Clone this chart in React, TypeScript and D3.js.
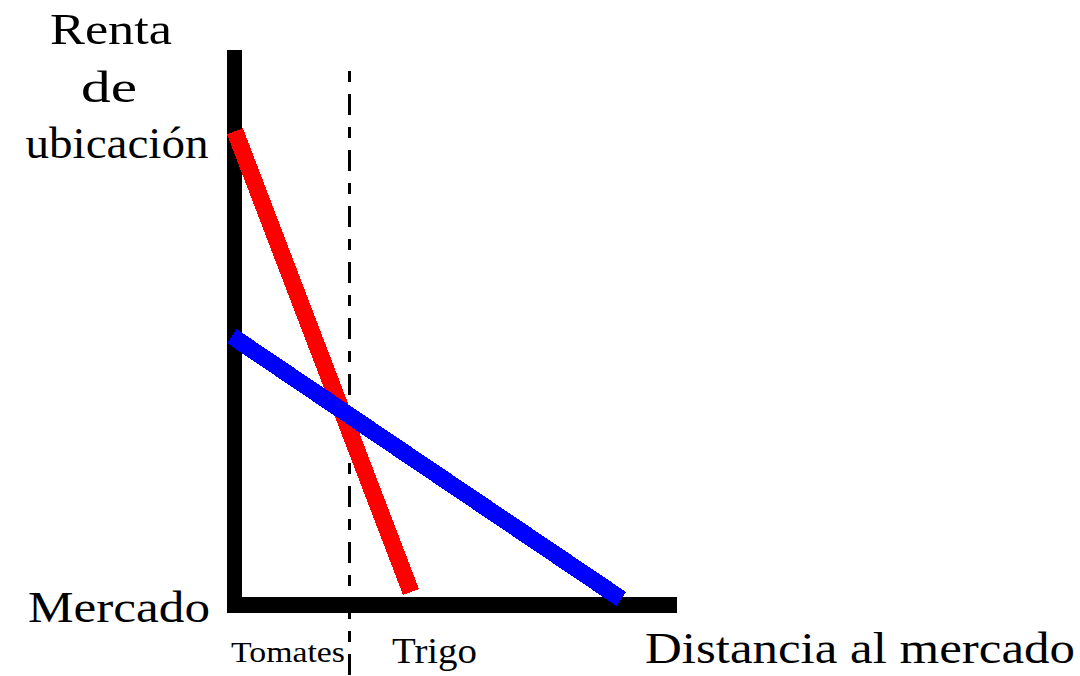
import React, { useEffect, useRef } from 'react';
import * as d3 from 'd3';

// distance to market (0-100) vs location rent (0-100)
const cropNames = ['Tomates', 'Trigo'];
const tomatoLine = [
  { dist: 0, rent: 85 },
  { dist: 40, rent: 0 },
];
const wheatLine = [
  { dist: -0.7, rent: 47.2 },
  { dist: 87.8, rent: -1.3 },
];
const boundaryDist = 26;
const yTitle = ['Renta', 'de', 'ubicación'];
const originLabel = 'Mercado';
const xTitle = 'Distancia al mercado';

const App = () => {
  const svgRef = useRef<SVGSVGElement>(null);

  useEffect(() => {
    const svg = d3.select(svgRef.current);
    svg.selectAll('*').remove();

    const width = 1080;
    const height = 676;

    const x = d3.scaleLinear().domain([0, 100]).range([235, 675]);
    const y = d3.scaleLinear().domain([0, 100]).range([592, 50]);

    svg.attr('width', width).attr('height', height);
    const font = "'Liberation Serif', 'DejaVu Serif', serif";

    // boundary dashed line between tomatoes and wheat
    svg.append('line')
      .attr('x1', x(boundaryDist)).attr('x2', x(boundaryDist))
      .attr('y1', 71).attr('y2', height)
      .attr('stroke', '#000')
      .attr('stroke-width', 3)
      .attr('stroke-dasharray', '11,12,21,12')
      .attr('shape-rendering', 'crispEdges');

    // axes (thick black bars)
    svg.append('rect')
      .attr('x', 227).attr('y', 50)
      .attr('width', 15).attr('height', 563)
      .attr('fill', '#000');
    svg.append('rect')
      .attr('x', 227).attr('y', 597)
      .attr('width', 450).attr('height', 16)
      .attr('fill', '#000');

    const line = d3.line<{ dist: number; rent: number }>()
      .x(d => x(d.dist))
      .y(d => y(d.rent));

    svg.append('path')
      .datum(tomatoLine)
      .attr('d', line)
      .attr('fill', 'none')
      .attr('stroke', '#ff0000')
      .attr('stroke-width', 17)
      .attr('shape-rendering', 'crispEdges');

    svg.append('path')
      .datum(wheatLine)
      .attr('d', line)
      .attr('fill', 'none')
      .attr('stroke', '#0000ff')
      .attr('stroke-width', 17)
      .attr('shape-rendering', 'crispEdges');

    // y title, three centered lines
    const yTitleSpecs = [
      { x: 111, y: 44, len: 122 },
      { x: 109, y: 102, len: 56 },
      { x: 117, y: 158, len: 183 },
    ];
    yTitle.forEach((t, i) => {
      svg.append('text')
        .attr('x', yTitleSpecs[i].x)
        .attr('y', yTitleSpecs[i].y)
        .attr('text-anchor', 'middle')
        .attr('font-family', font)
        .attr('font-size', 45)
        .attr('textLength', yTitleSpecs[i].len)
        .attr('lengthAdjust', 'spacingAndGlyphs')
        .text(t);
    });

    svg.append('text')
      .attr('x', 28).attr('y', 622)
      .attr('font-family', font)
      .attr('font-size', 45)
      .attr('textLength', 182)
      .attr('lengthAdjust', 'spacingAndGlyphs')
      .text(originLabel);

    svg.append('text')
      .attr('x', 645).attr('y', 663)
      .attr('font-family', font)
      .attr('font-size', 45)
      .attr('textLength', 430)
      .attr('lengthAdjust', 'spacingAndGlyphs')
      .text(xTitle);

    svg.append('text')
      .attr('x', 231).attr('y', 662)
      .attr('font-family', font)
      .attr('font-size', 30)
      .attr('textLength', 114)
      .attr('lengthAdjust', 'spacingAndGlyphs')
      .text(cropNames[0]);

    svg.append('text')
      .attr('x', 392).attr('y', 663)
      .attr('font-family', font)
      .attr('font-size', 36)
      .attr('textLength', 85)
      .attr('lengthAdjust', 'spacingAndGlyphs')
      .text(cropNames[1]);
  }, []);

  return (
    <div style={{ position: 'absolute', left: 0, top: 0, background: '#fff' }}>
      <svg ref={svgRef} style={{ display: 'block' }}></svg>
    </div>
  );
};

export default App;
